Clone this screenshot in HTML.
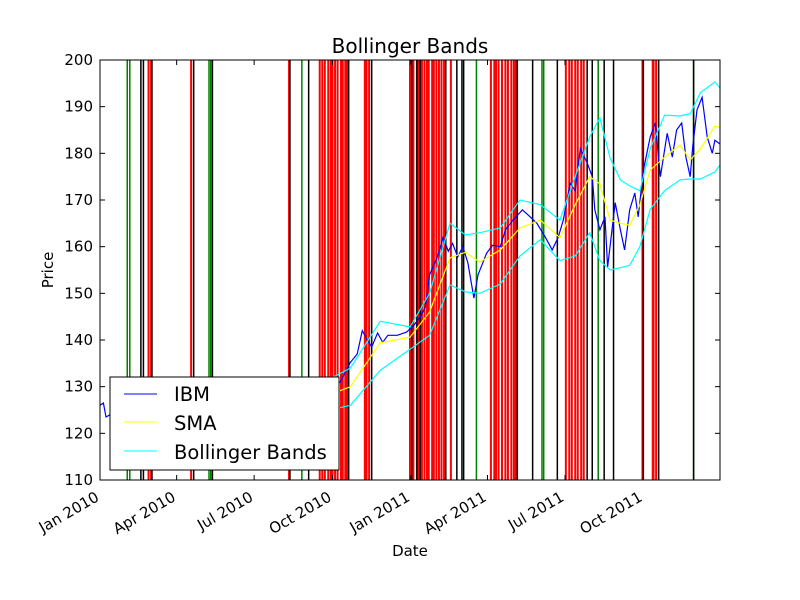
<!DOCTYPE html>
<html><head><meta charset="utf-8"><style>
body{margin:0;background:#fff;}
svg{display:block;font-family:"DejaVu Sans","Liberation Sans",sans-serif;}
</style></head><body>
<svg id="chart" width="800" height="600" viewBox="0 0 800 600">
<rect x="0" y="0" width="800" height="600" fill="#fff"/>
<text x="410" y="53" font-size="20" text-anchor="middle">Bollinger Bands</text>
<g id="vlines"></g>
<g id="series"></g>
<g id="axes"></g>
<rect x="100" y="60" width="620" height="420" fill="none" stroke="#000" stroke-width="1"/>
<text x="410" y="556" font-size="15" text-anchor="middle">Date</text>
<text x="53" y="270" font-size="15" text-anchor="middle" transform="rotate(-90 53 270)">Price</text>
<g>
<rect x="110" y="377" width="229" height="93" fill="#fff" stroke="#000" stroke-width="1"/>
<line x1="124" y1="394" x2="157" y2="394" stroke="#0000ff"/>
<text x="174" y="401" font-size="19.5">IBM</text>
<line x1="124" y1="422" x2="157" y2="422" stroke="#ffff00"/>
<text x="174" y="430" font-size="19.5">SMA</text>
<line x1="124" y1="451" x2="157" y2="451" stroke="#00ffff"/>
<text x="174" y="459" font-size="19.5">Bollinger Bands</text>
</g>
</svg>
<script>
const ibmDays=[0,4,7,12,35,70,117,164,211,258,282,294,302,308,314,319,326,332,338,349,360,368,376,382,387,396,403,409,414,420,426,432,439,444,454,461,470,476,485,496,505,513,523,531,538,544,552,558,564,572,578,581,587,593,596,605,611,616,622,628,632,638,646,652,658,666,672,677,683,688,693,696,701,707,713,719,722,728];
const ibmPrices=[126,126.5,123.5,124,126,128,125,127,128,129,131,135.2,137,142,140,138.5,141.5,139.5,141,141,141.7,143,145,147,154,157.8,162,159,160.7,157.8,160,156.5,149,154,158.6,160.3,160,163.6,165.7,167.9,166.4,165,162,159.3,162,165.7,173.6,172,181,178,175,167.9,163.6,166.4,155.6,169.4,163.6,159.3,167.9,171.5,166.4,176.4,183.5,186.5,175,184.3,179.2,185,186.5,179.2,175,181.4,189.3,192,183.5,180,182.8,182];
const smaDays=[20,70,141,211,258,294,329,364,387,411,429,446,470,493,517,540,558,575,587,599,611,622,634,646,663,681,693,705,722,728];
const smaValues=[126,127,126.5,127,127.5,130,139.4,140.6,146,157.6,158.8,156.7,159.3,164,165.7,161.9,169,175,173.5,165.7,165,164.6,169,176.4,179.2,181.8,178.6,181,185.8,185.6];
const upperValues=[129,130,129,130,130.5,134,144,142.8,150,165,162.5,163,164,170,169,165.7,175,183.5,187.6,179,174.3,173,172,181,188.2,188,188.5,193,195.3,194];
const lowerValues=[123,123,123,124,124.5,126,133.5,138,141,151.8,150.3,150,152,158,161.5,157,158,163,157,155,155.5,156,160,168,172,174.3,174.5,174.5,176,177.5];
const redDays=[57,60,107,222,258,261,264,268,271,273,276,279,283,285,288,290,311,313,316,364,368,374,378,381,384,386,390,392,395,398,401,404,412,459,463,465,468,472,476,479,483,486,488,547,551,554,558,561,565,568,637,649,650,653];
const greenDays=[32,35,128,130,237,442,519,521,585,697];
const blackDays=[48,51,61,110,132,223,245,292,319,366,372,376,406,419,425,427,490,508,537,572,578,592,603,638,656,697];
const yTicks=[110,120,130,140,150,160,170,180,190,200];
const xTickDays=[0,90,181,273,365,455,546,638];
const xTickLabels=["Jan 2010","Apr 2010","Jul 2010","Oct 2010","Jan 2011","Apr 2011","Jul 2011","Oct 2011"];

const NS="http://www.w3.org/2000/svg";
const X0=100,X1=720,Y0=480,Y1=60,DMAX=728,PMIN=110,PMAX=200;
function xs(d){return X0+d*(X1-X0)/DMAX;}
function ys(p){return Y0-(p-PMIN)*(Y0-Y1)/(PMAX-PMIN);}
function mk(tag,attrs,parent){const e=document.createElementNS(NS,tag);for(const k in attrs)e.setAttribute(k,attrs[k]);parent.appendChild(e);return e;}

const vg=document.getElementById('vlines');
redDays.forEach(d=>{const l=mk('line',{x1:xs(d),x2:xs(d),y1:Y1,y2:Y0,stroke:'#ff0000','stroke-width':2},vg);

});
greenDays.forEach(d=>{const l=mk('line',{x1:xs(d),x2:xs(d),y1:Y1,y2:Y0,stroke:'#008000','stroke-width':1.5},vg);

});
blackDays.forEach(d=>{const l=mk('line',{x1:xs(d),x2:xs(d),y1:Y1,y2:Y0,stroke:'#000','stroke-width':1.5},vg);

});

const sg=document.getElementById('series');
function poly(days,vals,color,name){
  const pts=days.map((d,i)=>xs(d).toFixed(1)+','+ys(vals[i]).toFixed(1)).join(' ');
  const p=mk('polyline',{points:pts,fill:'none',stroke:color,'stroke-width':1.2},sg);
  
  
}
poly(ibmDays,ibmPrices,'#0000ff','ibm-line');
poly(smaDays,smaValues,'#ffff00','sma-line');
poly(smaDays,upperValues,'#00ffff','upper-band-line');
poly(smaDays,lowerValues,'#00ffff','lower-band-line');

const ag=document.getElementById('axes');
yTicks.forEach(v=>{
  const y=ys(v);
  const t1=mk('line',{x1:X0,x2:X0+5,y1:y,y2:y,stroke:'#000'},ag);
  
  
  const t2=mk('line',{x1:X1-5,x2:X1,y1:y,y2:y,stroke:'#000'},ag);
  
  
  const tx=mk('text',{x:93,y:y+5,'font-size':15,'text-anchor':'end'},ag);
  tx.textContent=v;
  
  
});
xTickDays.forEach((d,i)=>{
  const x=xs(d);
  const t1=mk('line',{x1:x,x2:x,y1:Y0,y2:Y0-5,stroke:'#000'},ag);
  
  
  const t2=mk('line',{x1:x,x2:x,y1:Y1,y2:Y1+5,stroke:'#000'},ag);
  
  
  const tx=mk('text',{x:x,y:Y0+20,'font-size':15,'text-anchor':'end',transform:`rotate(-30 ${x} ${Y0+20})`},ag);
  tx.textContent=xTickLabels[i];
  
  
});
</script>
</body></html>
